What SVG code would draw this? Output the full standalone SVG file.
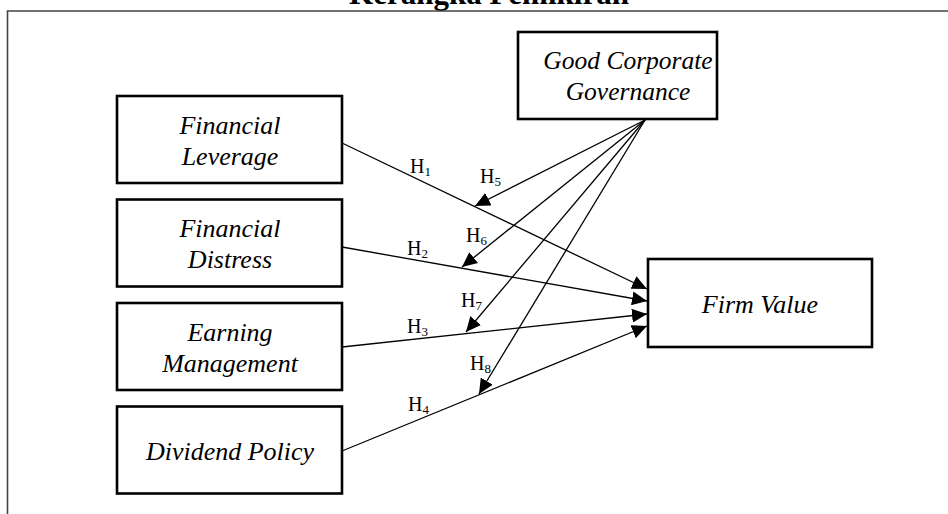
<svg xmlns="http://www.w3.org/2000/svg" width="948" height="514" viewBox="0 0 948 514">
  <style>
    .box { fill: #fff; stroke: #000; stroke-width: 2.6; }
    .lbl { font-family: "Liberation Serif", "Times New Roman", serif; font-style: italic; font-size: 26px; fill: #000; text-anchor: middle; }
    .h { font-family: "Liberation Serif", "Times New Roman", serif; font-size: 20px; fill: #000; }
    .h tspan.s { font-size: 13px; }
    .edge { stroke: #000; stroke-width: 1.3; fill: none; marker-end: url(#arrow); }
    .frame { stroke: #444; stroke-width: 1.6; fill: none; }
    .title { font-family: "Liberation Serif", "Times New Roman", serif; font-weight: bold; font-size: 31px; fill: #000; text-anchor: middle; }
  </style>
  <defs>
    <marker id="arrow" markerUnits="userSpaceOnUse" markerWidth="16" markerHeight="14" refX="15" refY="7" orient="auto">
      <path d="M0,0 L15,7 L0,14 Z" fill="#000"/>
    </marker>
  </defs>
  <rect width="948" height="514" fill="#fff"/>

  <!-- heading and page frame -->
  <text class="title" x="489" y="4">Kerangka Pemikiran</text>
  <path class="frame" d="M7.5,514 V11 H948"/>

  <!-- connectors -->
  <g id="connectors">
    <line class="edge" x1="342" y1="143" x2="647" y2="289"/>
    <line class="edge" x1="342" y1="247" x2="647" y2="301"/>
    <line class="edge" x1="342" y1="347" x2="647" y2="314"/>
    <line class="edge" x1="342" y1="451" x2="647" y2="326"/>
    <line class="edge" x1="645" y1="120" x2="475" y2="206"/>
    <line class="edge" x1="645" y1="120" x2="462" y2="267"/>
    <line class="edge" x1="645" y1="120" x2="466" y2="332"/>
    <line class="edge" x1="645" y1="120" x2="479" y2="394"/>
    <text class="h" x="410" y="173">H<tspan class="s" dy="3">1</tspan></text>
    <text class="h" x="407" y="255">H<tspan class="s" dy="3">2</tspan></text>
    <text class="h" x="407" y="333">H<tspan class="s" dy="3">3</tspan></text>
    <text class="h" x="408" y="411">H<tspan class="s" dy="3">4</tspan></text>
    <text class="h" x="480" y="183">H<tspan class="s" dy="3">5</tspan></text>
    <text class="h" x="466" y="242">H<tspan class="s" dy="3">6</tspan></text>
    <text class="h" x="461" y="307">H<tspan class="s" dy="3">7</tspan></text>
    <text class="h" x="470" y="370">H<tspan class="s" dy="3">8</tspan></text>
  </g>

  <!-- nodes -->
  <g id="financial-leverage">
    <rect class="box" x="117" y="96" width="225" height="87"/>
    <text class="lbl" x="230" y="134">Financial</text>
    <text class="lbl" x="230" y="165">Leverage</text>
  </g>
  <g id="financial-distress">
    <rect class="box" x="117" y="199.5" width="225" height="87"/>
    <text class="lbl" x="230" y="237">Financial</text>
    <text class="lbl" x="230" y="268">Distress</text>
  </g>
  <g id="earning-management">
    <rect class="box" x="117" y="303" width="225" height="87"/>
    <text class="lbl" x="230" y="341">Earning</text>
    <text class="lbl" x="230" y="372">Management</text>
  </g>
  <g id="dividend-policy">
    <rect class="box" x="117" y="406.5" width="225" height="87"/>
    <text class="lbl" x="230" y="460">Dividend Policy</text>
  </g>
  <g id="good-corporate-governance">
    <rect class="box" x="518" y="32" width="199" height="87"/>
    <text class="lbl" x="628" y="69" style="font-size:25.5px">Good Corporate</text>
    <text class="lbl" x="628" y="100" style="font-size:25.5px">Governance</text>
  </g>
  <g id="firm-value">
    <rect class="box" x="648" y="259" width="224" height="88"/>
    <text class="lbl" x="760" y="313">Firm Value</text>
  </g>
</svg>
